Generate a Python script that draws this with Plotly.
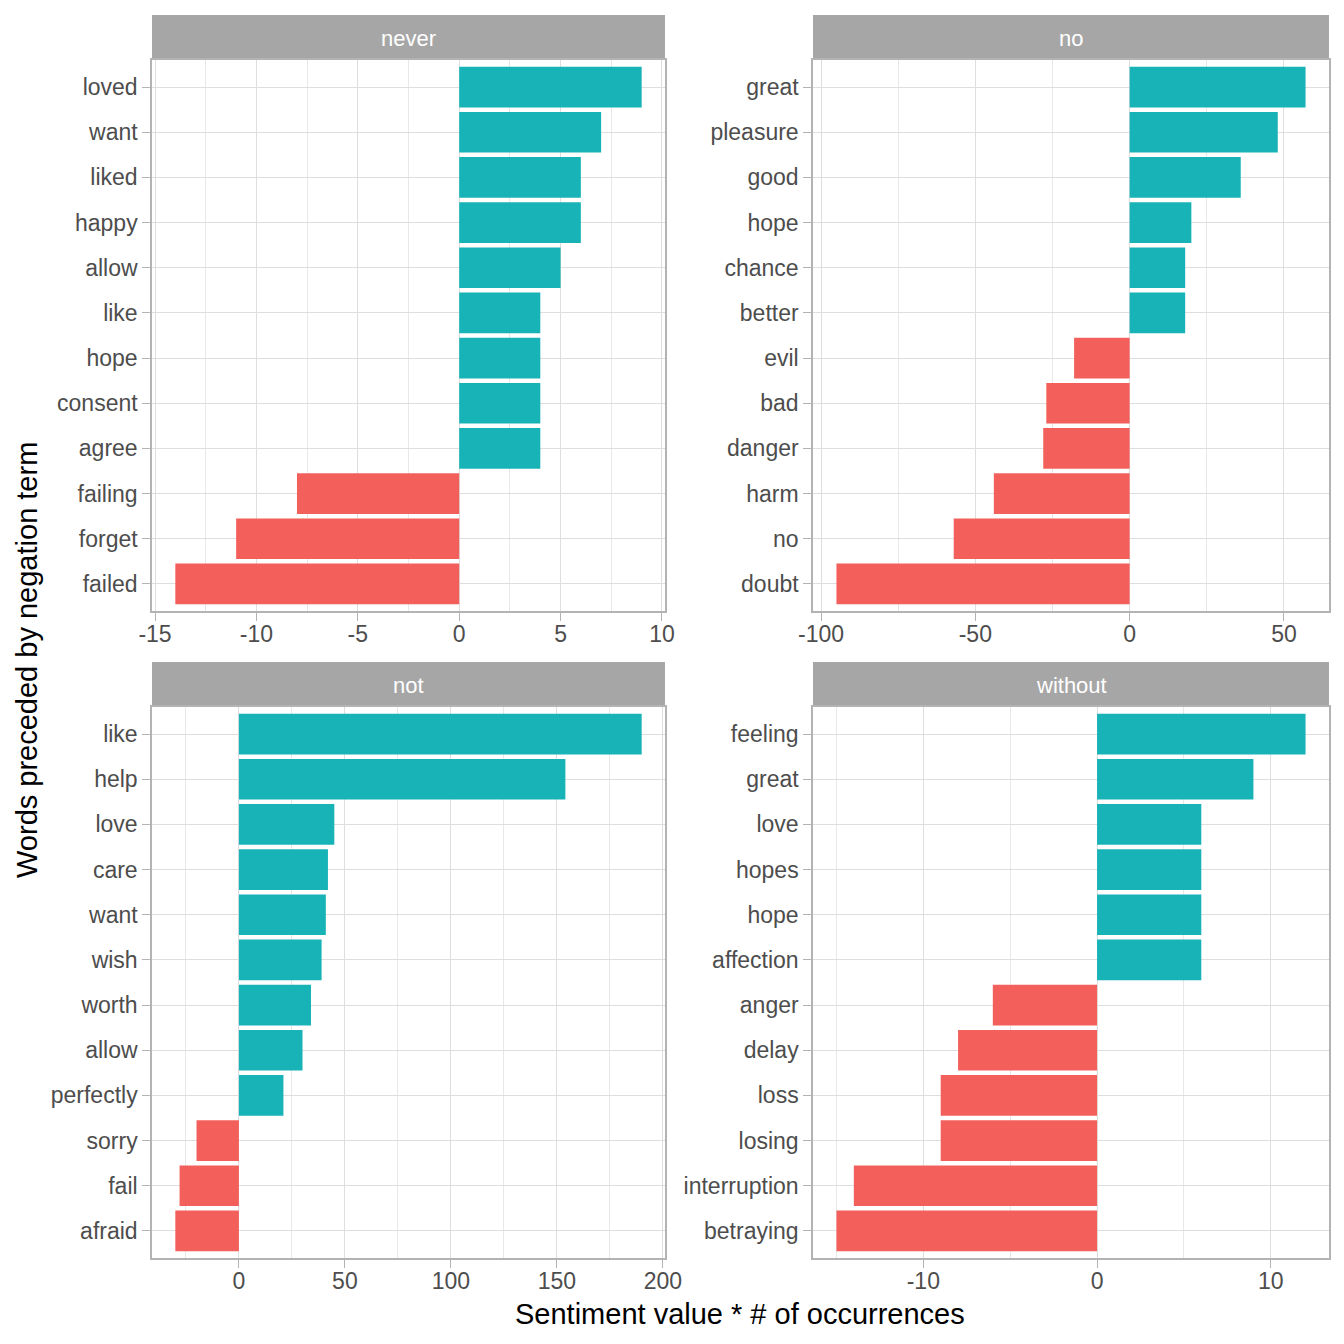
import plotly.graph_objects as go

# ---- data ----
never_words = ["failed", "forget", "failing", "agree", "consent", "hope", "like", "allow", "happy", "liked", "want", "loved"]
never_values = [-14, -11, -8, 4, 4, 4, 4, 5, 6, 6, 7, 9]

no_words = ["doubt", "no", "harm", "danger", "bad", "evil", "better", "chance", "hope", "good", "pleasure", "great"]
no_values = [-95, -57, -44, -28, -27, -18, 18, 18, 20, 36, 48, 57]

not_words = ["afraid", "fail", "sorry", "perfectly", "allow", "worth", "wish", "want", "care", "love", "help", "like"]
not_values = [-30, -28, -20, 21, 30, 34, 39, 41, 42, 45, 154, 190]

without_words = ["betraying", "interruption", "losing", "loss", "delay", "anger", "affection", "hope", "hopes", "love", "great", "feeling"]
without_values = [-15, -14, -9, -9, -8, -6, 6, 6, 6, 6, 9, 12]

facet_titles = ["never", "no", "not", "without"]
never_ticks = [-15, -10, -5, 0, 5, 10]
no_ticks = [-100, -50, 0, 50]
not_ticks = [0, 50, 100, 150, 200]
without_ticks = [-10, 0, 10]
never_tick_labels = ["-15", "-10", "-5", "0", "5", "10"]
no_tick_labels = ["-100", "-50", "0", "50"]
not_tick_labels = ["0", "50", "100", "150", "200"]
without_tick_labels = ["-10", "0", "10"]
minor_steps = [2.5, 25, 25, 5]

POS = "#18B3B7"
NEG = "#F3605C"
S = 1328      # figure size (page adds 8px body margin)
OFF = 8
FONT = "Liberation Sans, Arial, sans-serif"


def px(x):
    return (x - OFF) / S


def py(y):
    return 1 - (y - OFF) / S


panels = [
    (never_words, never_values, never_ticks, never_tick_labels, (152, 665), (60, 611), (15, 60)),
    (no_words, no_values, no_ticks, no_tick_labels, (813, 1329), (60, 611), (15, 60)),
    (not_words, not_values, not_ticks, not_tick_labels, (152, 665), (707, 1258), (662, 707)),
    (without_words, without_values, without_ticks, without_tick_labels, (813, 1329), (707, 1258), (662, 707)),
]

fig = go.Figure()
shapes = []
annotations = []
layout = {}
for i, (words, vals, tv, tt, (x0, x1), (y0, y1), (s0, s1)) in enumerate(panels):
    n = i + 1
    xa = "x" if n == 1 else f"x{n}"
    ya = "y" if n == 1 else f"y{n}"
    fig.add_trace(go.Bar(
        x=vals, y=words, orientation="h",
        marker=dict(color=[POS if v > 0 else NEG for v in vals], line=dict(width=0)),
        xaxis=xa, yaxis=ya, showlegend=False, hoverinfo="x+y",
    ))
    lo, hi = min(min(vals), 0), max(max(vals), 0)
    pad = (hi - lo) * 0.05
    xkey = "xaxis" if n == 1 else f"xaxis{n}"
    ykey = "yaxis" if n == 1 else f"yaxis{n}"
    layout[xkey] = dict(
        domain=[px(x0), px(x1)], anchor=ya, range=[lo - pad, hi + pad], automargin=False,
        tickmode="array", tickvals=tv, ticktext=tt,
        ticks="outside", ticklen=8, tickwidth=1.3, tickcolor="#B3B3B3",
        ticklabelstandoff=-6,
        tickfont=dict(size=23, color="#4D4D4D", family=FONT),
        showgrid=True, gridcolor="#DEDEDE", gridwidth=1.4, zeroline=False,
        showline=True, linecolor="#B3B3B3", linewidth=1.5, mirror=True,
        minor=dict(dtick=minor_steps[i], tick0=0, showgrid=True, gridcolor="#E8E8E8", gridwidth=0.8),
    )
    layout[ykey] = dict(
        domain=[py(y1), py(y0)], anchor=xa, type="category", automargin=False,
        categoryorder="array", categoryarray=words, range=[-0.6, len(words) - 0.4],
        ticks="outside", ticklen=8, tickwidth=1.3, tickcolor="#B3B3B3",
        tickfont=dict(size=23, color="#4D4D4D", family=FONT),
        showgrid=True, gridcolor="#DEDEDE", gridwidth=1.4, zeroline=False,
        showline=True, linecolor="#B3B3B3", linewidth=1.5, mirror=True,
    )
    shapes.append(dict(type="rect", xref="paper", yref="paper",
                       x0=px(x0), x1=px(x1), y0=py(s1), y1=py(s0),
                       fillcolor="#A6A6A6", line=dict(width=0), layer="below"))
    annotations.append(dict(text=facet_titles[i], xref="paper", yref="paper",
                            x=px((x0 + x1) / 2), y=py((s0 + s1) / 2 + 1),
                            showarrow=False, xanchor="center", yanchor="middle",
                            font=dict(size=22, color="white", family=FONT)))

annotations.append(dict(text="Sentiment value * # of occurrences", xref="paper", yref="paper",
                        x=px(740), y=py(1314), showarrow=False, xanchor="center", yanchor="middle",
                        font=dict(size=29, color="black", family=FONT)))
annotations.append(dict(text="Words preceded by negation term", xref="paper", yref="paper",
                        x=px(27), y=py(660), showarrow=False, textangle=-90,
                        xanchor="center", yanchor="middle",
                        font=dict(size=29, color="black", family=FONT)))

fig.update_layout(
    width=S, height=S, margin=dict(l=0, r=0, t=0, b=0, autoexpand=False),
    paper_bgcolor="white", plot_bgcolor="white", bargap=0.1,
    shapes=shapes, annotations=annotations, font=dict(family=FONT),
    **layout,
)
fig.write_html("out.html")
